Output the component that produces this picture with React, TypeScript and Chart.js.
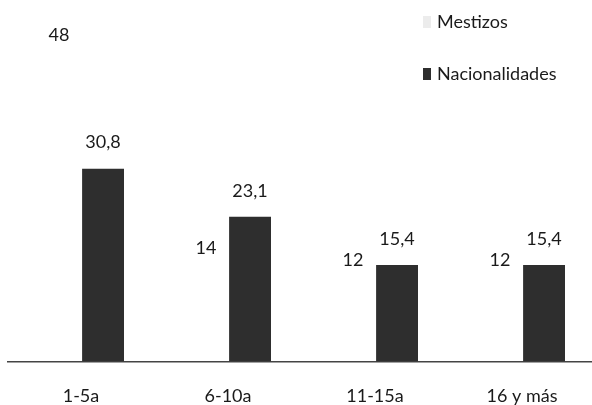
import React, { useEffect, useRef } from "react";
import { Chart, registerables } from "chart.js";

Chart.register(...registerables);

const categories = ["1-5a", "6-10a", "11-15a", "16 y más"];
const mestizos = [48, 14, 12, 12];
const nacionalidades = [30.8, 23.1, 15.4, 15.4];
const seriesNames = ["Mestizos", "Nacionalidades"];

const FONT = "Lato";
const TEXT = "#1a1a1a";

const valueLabels = {
  id: "valueLabels",
  afterDatasetsDraw(chart: any) {
    const ctx = chart.ctx;
    ctx.save();
    ctx.font = `18px ${FONT}`;
    ctx.fillStyle = TEXT;
    ctx.textAlign = "center";
    ctx.textBaseline = "middle";
    chart.data.datasets.forEach((ds: any, i: number) => {
      const meta = chart.getDatasetMeta(i);
      meta.data.forEach((el: any, j: number) => {
        const v = ds.data[j];
        const txt = String(v).replace(".", ",");
        ctx.fillText(txt, el.x, el.y - 26);
      });
    });
    ctx.restore();
  },
};

const sideLegend = {
  id: "sideLegend",
  afterDraw(chart: any) {
    const ctx = chart.ctx;
    ctx.save();
    ctx.font = `18px ${FONT}`;
    ctx.textBaseline = "middle";
    ctx.textAlign = "left";
    const rows = [
      { y: 22, marker: "#ececec" },
      { y: 74, marker: "#2e2e2e" },
    ];
    chart.data.datasets.forEach((ds: any, i: number) => {
      const r = rows[i];
      ctx.fillStyle = r.marker;
      ctx.fillRect(423, r.y - 6, 8, 12);
      ctx.fillStyle = TEXT;
      ctx.fillText(ds.label, 437, r.y);
    });
    ctx.restore();
  },
};

export default function App() {
  const ref = useRef<HTMLCanvasElement>(null);
  useEffect(() => {
    if (!ref.current) return;
    const chart = new Chart(ref.current, {
      type: "bar",
      data: {
        labels: categories,
        datasets: [
          {
            label: seriesNames[0],
            data: mestizos,
            backgroundColor: "rgba(255,255,255,0)",
            categoryPercentage: 0.6,
            barPercentage: 0.95,
          },
          {
            label: seriesNames[1],
            data: nacionalidades,
            backgroundColor: "#2e2e2e",
            categoryPercentage: 0.6,
            barPercentage: 0.95,
          },
        ],
      },
      options: {
        responsive: false,
        animation: false,
        layout: { padding: { left: 7.5, right: 0.5, top: 48.5, bottom: 1 } },
        plugins: { legend: { display: false }, tooltip: { enabled: false } },
        scales: {
          x: {
            grid: { display: false, drawTicks: false },
            border: { display: true, color: "#444", width: 1.5 },
            ticks: { padding: 24, color: TEXT, font: { family: FONT, size: 18 } },
          },
          y: { display: false, min: 0, max: 50 },
        },
      },
      plugins: [valueLabels, sideLegend],
    });
    return () => chart.destroy();
  }, []);
  return (
    <div style={{ position: "fixed", left: 0, top: 0, width: 592, height: 405, overflow: "hidden", background: "#fff" }}>
      <canvas ref={ref} width={596} height={432} style={{ display: "block" }} />
    </div>
  );
}
